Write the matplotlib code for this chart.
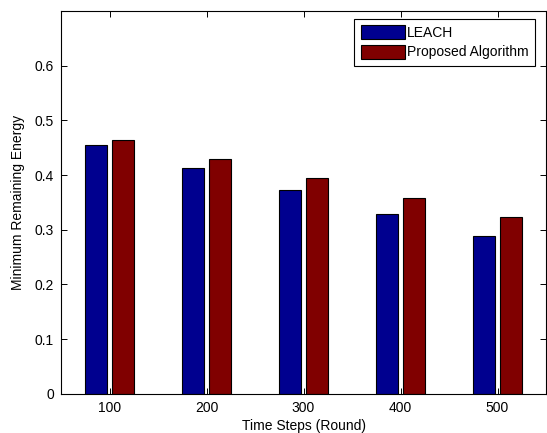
import numpy as np
import matplotlib
matplotlib.use("Agg")
import matplotlib.pyplot as plt

plt.rcParams['font.family'] = ['Liberation Sans', 'DejaVu Sans']

rounds = [100, 200, 300, 400, 500]
leach = [0.454, 0.413, 0.372, 0.329, 0.289]
proposed = [0.464, 0.429, 0.394, 0.358, 0.324]

x = np.array(rounds)
w = 22.5
off = 13.8

fig = plt.figure(figsize=(5.47, 4.33), dpi=100)
ax = fig.add_axes([61 / 547, 1 - 393.7 / 433, (546 - 61) / 547, (393.7 - 11) / 433])

ax.bar(x - off, leach, width=w, color="#00008f", edgecolor="black", linewidth=0.8, label="LEACH")
ax.bar(x + off, proposed, width=w, color="#800000", edgecolor="black", linewidth=0.8,
       label="Proposed Algorithm")

ax.set_xlim(50, 550)
ax.set_ylim(0, 0.7)
ax.set_xticks(rounds)
ax.set_yticks([0, 0.1, 0.2, 0.3, 0.4, 0.5, 0.6])
ax.set_yticklabels(["0", "0.1", "0.2", "0.3", "0.4", "0.5", "0.6"])
ax.tick_params(direction="in", top=True, right=True, length=4, labelsize=10, width=0.7, pad=5)
for s in ax.spines.values():
    s.set_linewidth(0.8)

ax.set_xlabel("Time Steps (Round)", fontsize=10, labelpad=3)
ax.set_ylabel("Minimum Remaining Energy", fontsize=10, labelpad=7)

leg = ax.legend(loc="upper right", bbox_to_anchor=(535 / 547, 1 - 18.7 / 433),
                bbox_transform=fig.transFigure, fontsize=10, fancybox=False, framealpha=1,
                edgecolor="black", handlelength=3.2, handleheight=1.2,
                handletextpad=0.15, borderaxespad=0, labelspacing=0.35,
                borderpad=0.45)
leg.get_frame().set_linewidth(0.8)

fig.savefig("out.png", dpi=100)
